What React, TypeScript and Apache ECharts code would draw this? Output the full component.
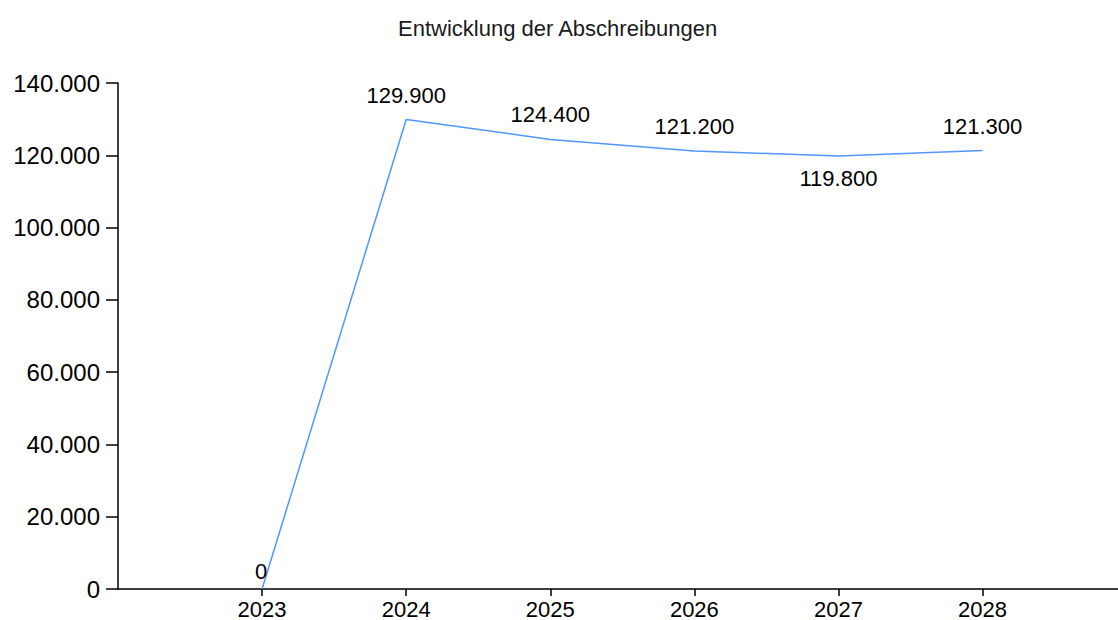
import React, { useEffect, useRef } from "react";
import * as echarts from "echarts";

const title = "Entwicklung der Abschreibungen";
const years = [2023, 2024, 2025, 2026, 2027, 2028];
const values = [0, 129900, 124400, 121200, 119800, 121300];
const labelBelow = [false, false, false, false, true, false];
const yTicks = [0, 20000, 40000, 60000, 80000, 100000, 120000, 140000];

const fmt = (v: number) => String(Math.round(v)).replace(/\B(?=(\d{3})+(?!\d))/g, ".");

const FONT = "'Liberation Sans', Arial, sans-serif";

export default function App() {
  const ref = useRef<HTMLDivElement>(null);
  useEffect(() => {
    const chart = echarts.init(ref.current!, null, { renderer: "svg" });
    chart.setOption({
      animation: false,
      backgroundColor: "#ffffff",
      title: {
        text: title,
        left: 393,
        top: 12,
        textStyle: { fontFamily: FONT, fontSize: 22, fontWeight: "normal", color: "#1a1a1a" },
      },
      grid: { left: 118, right: 0, top: 83, bottom: 31, containLabel: false },
      xAxis: {
        type: "value",
        min: years[0] - 1,
        max: years[years.length - 1] + 0.94,
        interval: 1,
        splitLine: { show: false },
        axisLine: { show: true, lineStyle: { color: "#000", width: 1.5 } },
        axisTick: { show: true, length: 7, lineStyle: { color: "#000", width: 1.5 }, customValues: years },
        axisLabel: {
          customValues: years,
          margin: 9,
          color: "#000",
          fontFamily: FONT,
          fontSize: 22,
          formatter: (v: number) => String(v),
        },
      },
      yAxis: {
        type: "value",
        min: yTicks[0],
        max: yTicks[yTicks.length - 1],
        interval: yTicks[1] - yTicks[0],
        splitLine: { show: false },
        axisLine: { show: true, lineStyle: { color: "#000", width: 1.5 } },
        axisTick: { show: true, length: 12, lineStyle: { color: "#000", width: 1.5 } },
        axisLabel: {
          margin: 18,
          color: "#000",
          fontFamily: FONT,
          fontSize: 24,
          formatter: (v: number) => fmt(v),
        },
      },
      series: [
        {
          type: "line",
          showSymbol: true,
          symbol: "circle",
          symbolSize: 1,
          itemStyle: { color: "rgba(0,0,0,0)", borderWidth: 0 },
          lineStyle: { color: "#5096ff", width: 1.5 },
          data: years.map((y, i) => ({
            value: [y, values[i]],
            label: {
              show: true,
              position: labelBelow[i] ? "bottom" : "top",
              distance: values[i] === 0 ? 6 : labelBelow[i] ? 11 : 13,
              offset: values[i] === 0 ? [-1, 0] : [0, 0],
              formatter: () => fmt(values[i]),
              color: "#000",
              fontFamily: FONT,
              fontSize: 22,
            },
          })),
        },
      ],
    });
    return () => chart.dispose();
  }, []);
  return (
    <div
      ref={ref}
      style={{ position: "fixed", left: 0, top: 0, width: 1118, height: 620, background: "#fff" }}
    />
  );
}
